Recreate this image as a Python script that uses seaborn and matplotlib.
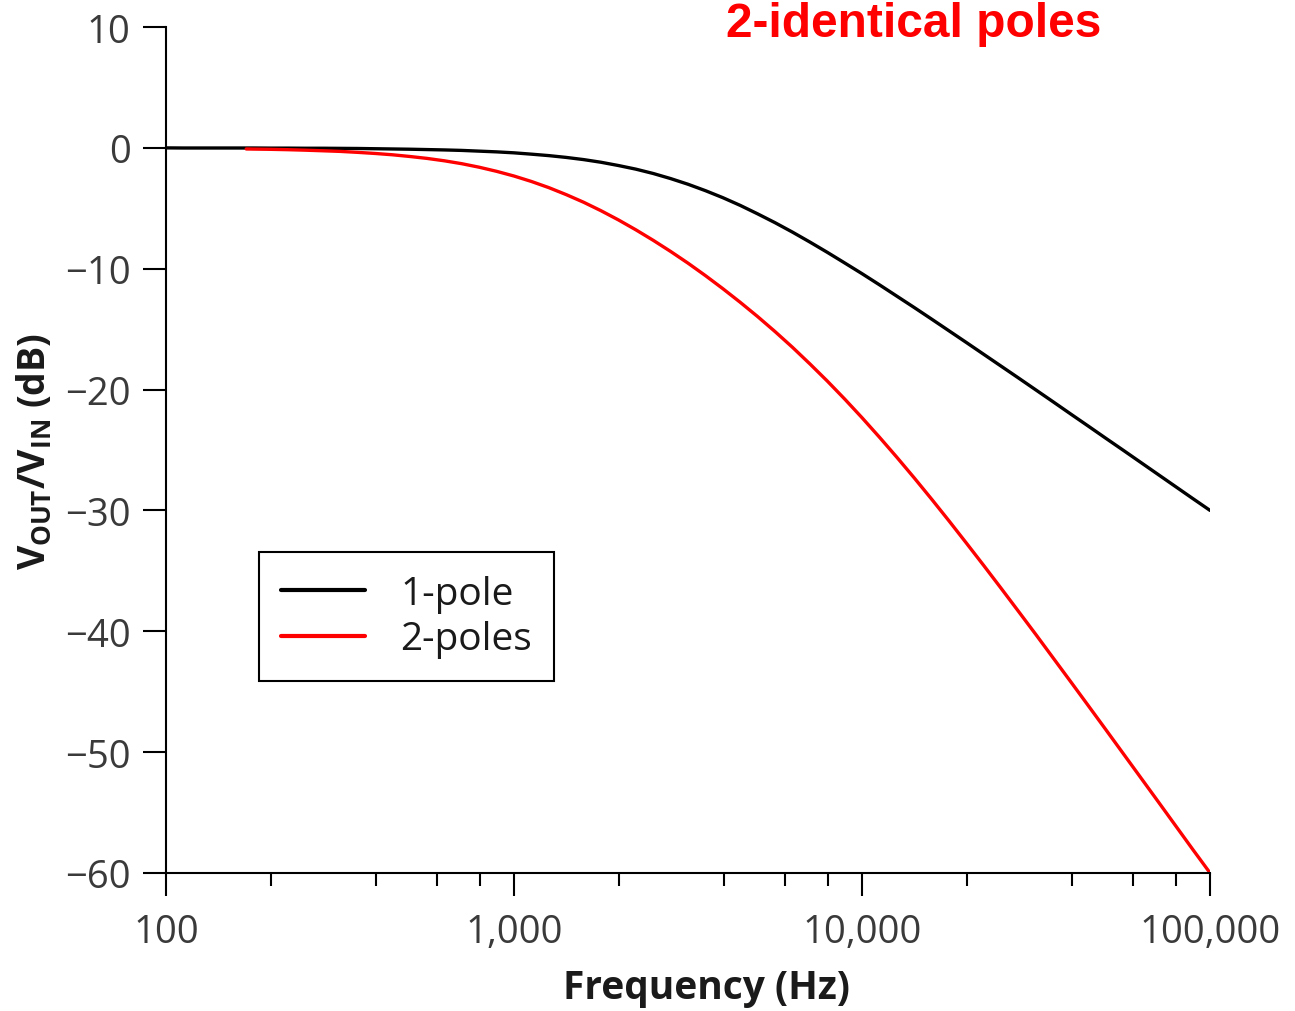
import numpy as np
import pandas as pd
import matplotlib
matplotlib.use("Agg")
import matplotlib.pyplot as plt
import matplotlib.ticker as mticker
import seaborn as sns

# Data (Hz, dB)
freq_1pole = [100, 112, 126, 141, 158, 178, 200, 224, 251, 282, 316, 355, 398, 447, 501,
              562, 631, 708, 794, 891, 1000, 1122, 1259, 1413, 1585, 1778, 1995, 2239,
              2512, 2818, 3162, 3548, 3981, 4467, 5012, 5623, 6310, 7079, 7943, 8913,
              10000, 11220, 12589, 14125, 15849, 17783, 19953, 22387, 25119, 28184,
              31623, 35481, 39811, 44668, 50119, 56234, 63096, 70795, 79433, 89125, 100000]
gain_1pole = [0.0, -0.01, -0.01, -0.01, -0.01, -0.01, -0.02, -0.02, -0.03, -0.03, -0.04,
              -0.05, -0.07, -0.09, -0.11, -0.14, -0.17, -0.21, -0.27, -0.33, -0.41, -0.52,
              -0.64, -0.79, -0.97, -1.19, -1.46, -1.76, -2.12, -2.54, -3.01, -3.54, -4.12,
              -4.76, -5.46, -6.19, -6.97, -7.79, -8.64, -9.52, -10.41, -11.33, -12.27,
              -13.21, -14.17, -15.14, -16.11, -17.09, -18.07, -19.05, -20.04, -21.03,
              -22.03, -23.02, -24.02, -25.01, -26.01, -27.01, -28.01, -29.01, -30.0]
freq_2poles = [170, 178, 200, 224, 251, 282, 316, 355, 398, 447, 501, 562, 631, 708, 794,
               891, 1000, 1122, 1259, 1413, 1585, 1778, 1995, 2239, 2512, 2818, 3162, 3548,
               3981, 4467, 5012, 5623, 6310, 7079, 7943, 8913, 10000, 11220, 12589, 14125,
               15849, 17783, 19953, 22387, 25119, 28184, 31623, 35481, 39811, 44668, 50119,
               56234, 63096, 70795, 79433, 89125, 100000]
gain_2poles = [-0.09, -0.10, -0.12, -0.15, -0.19, -0.24, -0.29, -0.37, -0.46, -0.57, -0.71,
               -0.87, -1.07, -1.31, -1.60, -1.94, -2.33, -2.78, -3.29, -3.87, -4.50, -5.20,
               -5.96, -6.78, -7.65, -8.57, -9.54, -10.57, -11.65, -12.78, -13.96, -15.20,
               -16.50, -17.87, -19.29, -20.78, -22.33, -23.94, -25.60, -27.31, -29.07,
               -30.87, -32.71, -34.57, -36.46, -38.37, -40.29, -42.24, -44.19, -46.15,
               -48.12, -50.10, -52.08, -54.06, -56.05, -58.04, -60.0]
series_names = ["1-pole", "2-poles"]
series_colors = ["#000000", "#ff0000"]
x_ticks = [100, 1000, 10000, 100000]
x_tick_labels = ["100", "1,000", "10,000", "100,000"]
y_ticks = [10, 0, -10, -20, -30, -40, -50, -60]
title_text = "2-identical poles"

df = pd.concat([
    pd.DataFrame({"Frequency": freq_1pole, "Gain": gain_1pole, "Series": series_names[0]}),
    pd.DataFrame({"Frequency": freq_2poles, "Gain": gain_2poles, "Series": series_names[1]}),
], ignore_index=True)

sns.set_style("ticks")
plt.rcParams["font.family"] = ["Open Sans", "DejaVu Sans"]
plt.rcParams["mathtext.fontset"] = "custom"
plt.rcParams["mathtext.rm"] = "Open Sans"
plt.rcParams["mathtext.bf"] = "Open Sans:bold"
plt.rcParams["axes.unicode_minus"] = True

fig = plt.figure(figsize=(12.95, 10.12), dpi=100)
ax = fig.add_axes([0.1282, 0.1364, 0.8062, 0.8359])

sns.lineplot(data=df, x="Frequency", y="Gain", hue="Series",
             palette=dict(zip(series_names, series_colors)), linewidth=2.4,
             ax=ax, sort=True, estimator=None)

ax.set_xscale("log")
ax.set_xlim(100, 100000)
ax.set_ylim(-60, 10)
ax.xaxis.set_major_locator(mticker.FixedLocator(x_ticks))
ax.xaxis.set_major_formatter(mticker.FixedFormatter(x_tick_labels))
ax.xaxis.set_minor_locator(mticker.LogLocator(base=10, subs=(2, 4, 6, 8)))
ax.xaxis.set_minor_formatter(mticker.NullFormatter())
ax.set_yticks(y_ticks)
ax.set_yticklabels(["\u2212" + str(-v) if v < 0 else str(v) for v in y_ticks])

for s in ["top", "right"]:
    ax.spines[s].set_visible(False)
for s in ["left", "bottom"]:
    ax.spines[s].set_linewidth(1.5)
    ax.spines[s].set_color("black")

ax.tick_params(axis="both", which="major", direction="out", length=16.5, width=1.5,
               color="black", labelsize=27.5, labelcolor="#3a3a3a")
ax.tick_params(axis="y", which="major", pad=9)
ax.tick_params(axis="x", which="major", pad=12)
ax.tick_params(axis="x", which="minor", direction="out", length=9.5, width=1.5, color="black")

ax.set_xlabel("Frequency (Hz)", fontsize=28, fontweight="bold", color="#1a1a1a")
ax.xaxis.set_label_coords(0.518, -0.135)
ax.xaxis.label.set_va("center")
ax.set_ylabel(r"$\mathbf{V_{OUT}/V_{IN}}$ (dB)", fontsize=27, fontweight="bold",
              color="#1a1a1a", labelpad=7)

leg = ax.legend(loc="lower left", bbox_to_anchor=(0.089, 0.227), borderaxespad=0,
                fontsize=28, frameon=True, fancybox=False, framealpha=1,
                edgecolor="black", handlelength=2.15, handletextpad=0.9,
                borderpad=0.58, labelspacing=0.2, title=None)
leg.get_frame().set_linewidth(1.5)
for line in leg.get_lines():
    line.set_linewidth(3.0)
for t in leg.get_texts():
    t.set_color("#1a1a1a")

fig.text(0.7055, 0.976, title_text, color="#ff0000", fontsize=34.5, fontweight="bold",
         family="Liberation Sans", ha="center", va="center")

fig.savefig("out.png", dpi=100, facecolor="white")
